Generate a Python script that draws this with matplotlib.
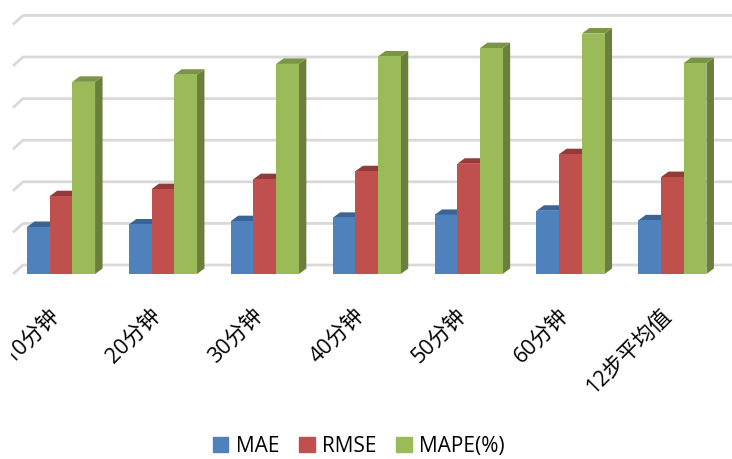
import matplotlib
matplotlib.use("Agg")
import numpy as np
import matplotlib.pyplot as plt
from matplotlib.patches import Patch, Rectangle

plt.rcParams['font.family'] = ['Open Sans', 'Noto Sans CJK SC', 'DejaVu Sans']

categories = ['10分钟', '20分钟', '30分钟', '40分钟', '50分钟', '60分钟', '12步平均值']
mae = [1.13, 1.19, 1.27, 1.35, 1.42, 1.52, 1.29]
rmse = [1.87, 2.04, 2.28, 2.47, 2.65, 2.88, 2.33]
mape = [4.62, 4.79, 5.05, 5.23, 5.43, 5.78, 5.07]
grid_levels = [0, 1, 2, 3, 4, 5, 6]

names = ['MAE', 'RMSE', 'MAPE(%)']
front_colors = ['#4F81BD', '#C0504D', '#9BBB59']
top_colors = ['#3B6496', '#943B39', '#7A9543']
side_colors = ['#375B87', '#863633', '#6A7F3B']

W, H = 732, 459
px_x = 101.9    # pixels per category
px_y = 41.6     # pixels per grid step
x0_px = 61      # first category centre
y0_px = 274     # baseline of the front faces

fig = plt.figure(figsize=(W / 100, H / 100), dpi=100)
ax = fig.add_axes([0, 0, 1, 1])
ax.set_xlim(-x0_px / px_x, (W - x0_px) / px_x)
ax.set_ylim(-(H - y0_px) / px_y, y0_px / px_y)
ax.axis('off')

# back wall gridlines with the short diagonal on the side wall
wall_dx, wall_dy = 10 / px_x, 9 / px_y
left = (13 - x0_px) / px_x
for g in grid_levels:
    ax.plot([left, left + wall_dx, ax.get_xlim()[1]],
            [g, g + wall_dy, g + wall_dy],
            color='#D9D9D9', lw=2, solid_capstyle='butt', zorder=1)

bar_w = 22.7 / px_x
dx, dy = 7.5 / px_x, 5.5 / px_y
x = np.arange(len(categories))

for j, vals in enumerate([mae, rmse, mape]):
    xs = x + (j - 1.5) * bar_w
    for xi, v in zip(xs, vals):
        xr = xi + bar_w
        ax.fill([xr, xr + dx, xr + dx, xr], [0, dy, v + dy, v],
                color=side_colors[j], lw=0, zorder=2 + j)
        ax.fill([xi, xi + dx, xr + dx, xr], [v, v + dy, v + dy, v],
                color=top_colors[j], lw=0, zorder=2 + j)
    ax.bar(xs, vals, width=bar_w, align='edge', color=front_colors[j],
           edgecolor='none', zorder=2.5 + j)

# the reference picture is cropped through the first label
crop = Rectangle((11 / W, 0), 1, 1, transform=ax.transAxes)
for i, label in enumerate(categories):
    t = ax.text(i - 12 / px_x, -31 / px_y, label, rotation=45, rotation_mode='anchor',
                ha='right', va='top', fontsize=15.5, color='black')
    t.set_clip_path(crop)
    t.set_clip_on(True)

handles = [Patch(color=c, label=n) for c, n in zip(front_colors, names)]
ax.legend(handles=handles, loc='center', bbox_to_anchor=(0.49, 0.028), ncol=3,
          frameon=False, fontsize=15, handlelength=0.75, handleheight=0.75,
          handletextpad=0.35, columnspacing=0.95, borderpad=0, labelcolor='black')

fig.savefig('out.png', dpi=100)
